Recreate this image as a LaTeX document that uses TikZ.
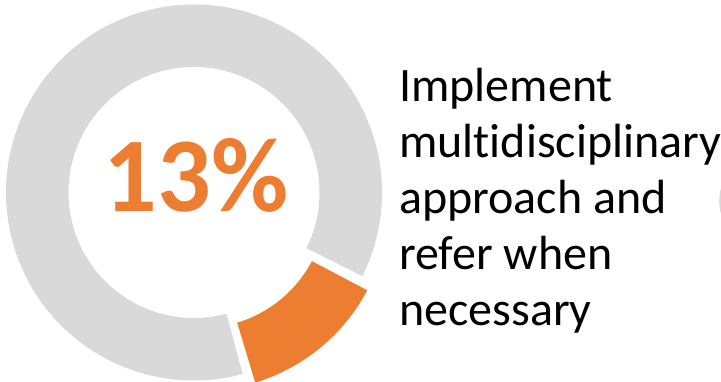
\documentclass[tikz,border=0pt]{standalone}
\usepackage{fontspec}
\setmainfont{Carlito}[Ligatures=NoCommon]
\definecolor{ringgray}{HTML}{D9D9D9}
\definecolor{sliceorange}{HTML}{ED7D31}
\begin{document}
\begin{tikzpicture}[x=1pt,y=1pt]
\useasboundingbox (0,0) rectangle (721,382);
\clip (0,0) rectangle (721,382);

% Centre of the ring and of the pulled-out slice
\coordinate (C) at (194,189.5);
\coordinate (S) at (200.9,179.4);

% Grey part of the ring
\fill[ringgray] ([shift={(-26.4:188)}]C) arc (-26.4:285:188)
  -- ([shift={(285:125.5)}]C) arc (285:-26.4:125.5) -- cycle;

% Orange slice, pulled out
\fill[sliceorange] ([shift={(-27.8:188)}]S) arc (-27.8:-73.2:188)
  -- ([shift={(-73.2:125.5)}]S) arc (-73.2:-27.8:125.5) -- cycle;

% Edge of the next ring
\fill[ringgray] (721,194) .. controls (718.6,185) and (718.6,177) .. (721,168) -- cycle;

% Labels
\node[anchor=base,text=sliceorange,font=\fontsize{106}{106}\selectfont\bfseries,inner sep=0pt] (pct) at (196,170.3) {13\%};
\node[anchor=base west,align=left,font=\fontsize{48}{56}\selectfont,inner sep=0pt] (txt) at (399,56)
  {Implement\\multidisciplinary\\approach and\\refer when\\necessary};
\end{tikzpicture}
\end{document}
